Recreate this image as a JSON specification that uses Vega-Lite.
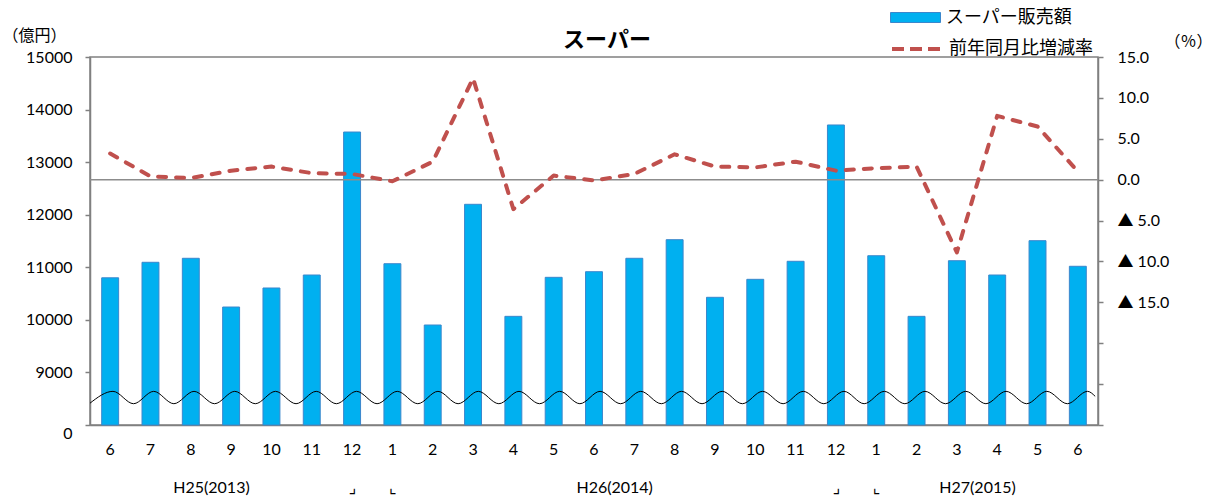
{
  "$schema": "https://vega.github.io/schema/vega-lite/v6.json",
  "description": "スーパー販売額と前年同月比増減率",
  "width": 1008,
  "height": 368,
  "autosize": {"type": "none"},
  "padding": {"left": 90, "top": 57, "right": 119, "bottom": 74},
  "title": {"text": "スーパー", "font": "Noto Sans CJK JP", "fontSize": 22, "fontWeight": "bold", "color": "#000", "anchor": "middle", "dx": 13, "offset": -60},
  "datasets": {
    "main": [
      {"ym": "2013-06", "sales": 10800, "rate": 3.2},
      {"ym": "2013-07", "sales": 11095, "rate": 0.4},
      {"ym": "2013-08", "sales": 11171, "rate": 0.2},
      {"ym": "2013-09", "sales": 10244, "rate": 1.1},
      {"ym": "2013-10", "sales": 10606, "rate": 1.6},
      {"ym": "2013-11", "sales": 10853, "rate": 0.8},
      {"ym": "2013-12", "sales": 13573, "rate": 0.7},
      {"ym": "2014-01", "sales": 11068, "rate": -0.2},
      {"ym": "2014-02", "sales": 9902, "rate": 2.2},
      {"ym": "2014-03", "sales": 12198, "rate": 12.4},
      {"ym": "2014-04", "sales": 10067, "rate": -3.6},
      {"ym": "2014-05", "sales": 10809, "rate": 0.5},
      {"ym": "2014-06", "sales": 10916, "rate": -0.1},
      {"ym": "2014-07", "sales": 11171, "rate": 0.7},
      {"ym": "2014-08", "sales": 11525, "rate": 3.1},
      {"ym": "2014-09", "sales": 10429, "rate": 1.6},
      {"ym": "2014-10", "sales": 10771, "rate": 1.5},
      {"ym": "2014-11", "sales": 11114, "rate": 2.2},
      {"ym": "2014-12", "sales": 13707, "rate": 1.1},
      {"ym": "2015-01", "sales": 11220, "rate": 1.4},
      {"ym": "2015-02", "sales": 10067, "rate": 1.6},
      {"ym": "2015-03", "sales": 11125, "rate": -8.9},
      {"ym": "2015-04", "sales": 10853, "rate": 7.8},
      {"ym": "2015-05", "sales": 11506, "rate": 6.5},
      {"ym": "2015-06", "sales": 11019, "rate": 1.0}
    ],
    "wave": [
      {"u": 0, "v": 8415},
      {"u": 0.57, "v": 8640}, {"u": 1.08, "v": 8405},
      {"u": 1.58, "v": 8640}, {"u": 2.08, "v": 8405},
      {"u": 2.58, "v": 8640}, {"u": 3.09, "v": 8405},
      {"u": 3.59, "v": 8640}, {"u": 4.1, "v": 8405},
      {"u": 4.6, "v": 8640}, {"u": 5.11, "v": 8405},
      {"u": 5.61, "v": 8640}, {"u": 6.11, "v": 8405},
      {"u": 6.61, "v": 8640}, {"u": 7.12, "v": 8405},
      {"u": 7.62, "v": 8640}, {"u": 8.13, "v": 8405},
      {"u": 8.63, "v": 8640}, {"u": 9.13, "v": 8405},
      {"u": 9.63, "v": 8640}, {"u": 10.14, "v": 8405},
      {"u": 10.64, "v": 8640}, {"u": 11.15, "v": 8405},
      {"u": 11.65, "v": 8640}, {"u": 12.15, "v": 8405},
      {"u": 12.65, "v": 8640}, {"u": 13.16, "v": 8405},
      {"u": 13.66, "v": 8640}, {"u": 14.17, "v": 8405},
      {"u": 14.67, "v": 8640}, {"u": 15.18, "v": 8405},
      {"u": 15.68, "v": 8640}, {"u": 16.18, "v": 8405},
      {"u": 16.68, "v": 8640}, {"u": 17.19, "v": 8405},
      {"u": 17.69, "v": 8640}, {"u": 18.2, "v": 8405},
      {"u": 18.7, "v": 8640}, {"u": 19.2, "v": 8405},
      {"u": 19.7, "v": 8640}, {"u": 20.21, "v": 8405},
      {"u": 20.71, "v": 8640}, {"u": 21.22, "v": 8405},
      {"u": 21.72, "v": 8640}, {"u": 22.22, "v": 8405},
      {"u": 22.72, "v": 8640}, {"u": 23.23, "v": 8405},
      {"u": 23.73, "v": 8640}, {"u": 24.24, "v": 8405},
      {"u": 24.74, "v": 8640},
      {"u": 24.93, "v": 8545}
    ]
  },
  "layer": [
    {
      "data": {"name": "main"},
      "mark": {"type": "bar", "stroke": "#3B87CC", "strokeWidth": 1},
      "encoding": {
        "x": {
          "field": "ym", "type": "nominal", "sort": null,
          "scale": {"paddingInner": 0.58, "paddingOuter": 0.29},
          "axis": {"orient": "bottom", "title": null, "labelExpr": "parseInt(split(datum.value, '-')[1])", "ticks": false, "labelAngle": 0, "labelPadding": 16}
        },
        "y": {
          "field": "sales", "type": "quantitative",
          "scale": {"domain": [8000, 15000], "zero": false, "nice": false},
          "axis": {
            "orient": "left",
            "values": [8000, 9000, 10000, 11000, 12000, 13000, 14000, 15000],
            "format": "d",
            "labelExpr": "datum.value == 8000 ? '0' : datum.label",
            "labelBaseline": {"condition": {"test": "datum.value == 8000", "value": "top"}, "value": "middle"},
            "labelPadding": 13,
            "title": "（億円）", "titleAngle": 0, "titleAlign": "left", "titleBaseline": "middle",
            "titleX": -88, "titleY": -22
          }
        },
        "y2": {"datum": 8000},
        "fill": {
          "datum": "スーパー販売額",
          "scale": {"range": ["#00B0F0"]},
          "legend": {
            "title": null, "orient": "none", "legendX": 800, "legendY": -65,
            "symbolType": "M-1,-0.2H1V0.2H-1Z", "symbolSize": 2500,
            "symbolStrokeColor": "#3B87CC", "symbolStrokeWidth": 1, "labelOffset": 5
          }
        }
      }
    },
    {
      "data": {"name": "wave"},
      "mark": {"type": "line", "color": "#000", "strokeWidth": 1, "interpolate": "monotone"},
      "encoding": {
        "x": {
          "field": "u", "type": "quantitative",
          "scale": {"domain": [0, 25], "zero": false, "nice": false},
          "axis": {
            "orient": "bottom", "title": null, "grid": false, "domain": false, "ticks": false,
            "values": [3, 6.5, 7.5, 13, 18.5, 19.5, 22],
            "labelExpr": "datum.value == 3 ? 'H25(2013)' : datum.value == 13 ? 'H26(2014)' : datum.value == 22 ? 'H27(2015)' : (datum.value == 6.5 || datum.value == 18.5) ? '⌟' : '⌞'",
            "labelPadding": 54, "labelFlush": false, "labelOverlap": false
          }
        },
        "y": {"field": "v", "type": "quantitative", "scale": {"domain": [8000, 15000], "zero": false, "nice": false}, "axis": null}
      }
    },
    {
      "data": {"values": [{}]},
      "mark": {"type": "rule", "color": "#8c8c8c", "strokeWidth": 1.5},
      "encoding": {
        "y": {"datum": 0, "type": "quantitative", "scale": {"domain": [-30, 15], "zero": false, "nice": false}, "axis": null}
      }
    },
    {
      "data": {"name": "main"},
      "mark": {"type": "line", "strokeWidth": 4, "strokeDash": [8, 10], "strokeCap": "round", "strokeJoin": "round"},
      "encoding": {
        "x": {"field": "ym", "type": "nominal", "sort": null, "axis": null},
        "y": {
          "field": "rate", "type": "quantitative",
          "scale": {"domain": [-30, 15], "zero": false, "nice": false},
          "axis": {
            "orient": "right",
            "values": [15, 10, 5, 0, -5, -10, -15, -20, -25, -30],
            "labelExpr": "datum.value < -15 ? '' : datum.value < 0 ? '▲ ' + format(-datum.value, '.1f') : format(datum.value, '.1f')",
            "labelAlign": "left", "labelPadding": 14,
            "title": "（％）", "titleAngle": 0, "titleAlign": "left", "titleBaseline": "middle",
            "titleX": 66, "titleY": -16
          }
        },
        "stroke": {
          "datum": "前年同月比増減率",
          "scale": {"range": ["#C0504D"]},
          "legend": {
            "title": null, "orient": "none", "legendX": 800, "legendY": -35,
            "symbolType": "stroke", "symbolSize": 2500,
            "symbolStrokeWidth": 4, "symbolDash": [12, 6], "labelOffset": 5
          }
        }
      }
    }
  ],
  "resolve": {"scale": {"x": "independent", "y": "independent"}},
  "config": {
    "view": {"stroke": "#808080", "strokeWidth": 1.5},
    "axis": {
      "domainColor": "#808080", "domainWidth": 1.5,
      "tickColor": "#808080", "tickWidth": 1.5, "tickSize": 5,
      "grid": false,
      "labelColor": "#000", "labelFont": "Lato, Noto Sans CJK JP, DejaVu Sans", "labelFontSize": 16,
      "titleColor": "#000", "titleFont": "Noto Sans CJK JP", "titleFontSize": 16, "titleFontWeight": "normal"
    },
    "legend": {
      "labelColor": "#000", "labelFont": "Noto Sans CJK JP", "labelFontSize": 18, "padding": 0
    }
  }
}
